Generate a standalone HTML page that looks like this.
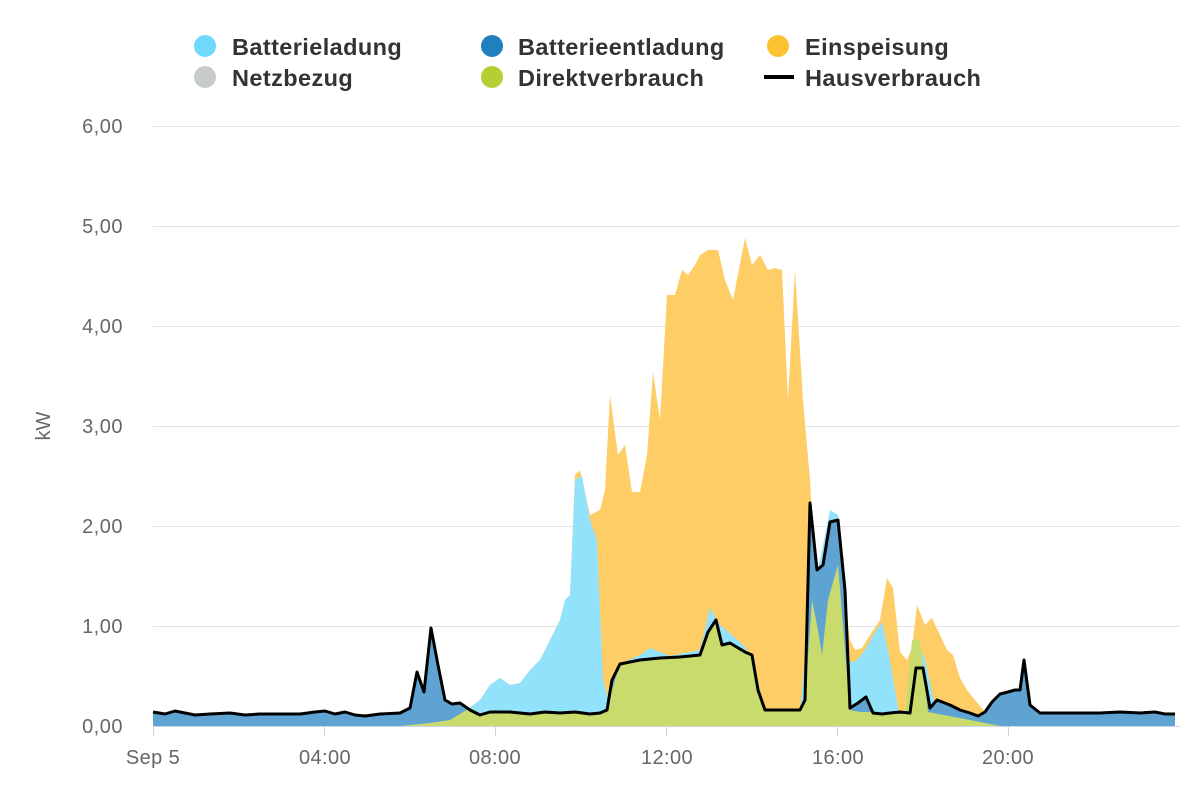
<!DOCTYPE html>
<html><head><meta charset="utf-8"><style>
body{margin:0;background:#fff;font-family:"Liberation Sans",sans-serif;}
</style></head><body>
<svg width="1200" height="800" xmlns="http://www.w3.org/2000/svg" font-family="Liberation Sans, sans-serif">
<g font-size="23.5" font-weight="bold" fill="#333" letter-spacing="0.4">
<circle cx="205" cy="46" r="11" fill="#6fd9fb"/><text x="232" y="55">Batterieladung</text>
<circle cx="205" cy="77" r="11" fill="#c8cbcb"/><text x="232" y="86">Netzbezug</text>
<circle cx="492" cy="46" r="11" fill="#1f80bd"/><text x="518" y="55">Batterieentladung</text>
<circle cx="492" cy="77" r="11" fill="#b5cf33"/><text x="518" y="86">Direktverbrauch</text>
<circle cx="778" cy="46" r="11" fill="#fdc231"/><text x="805" y="55">Einspeisung</text>
<rect x="764" y="75" width="30" height="4" fill="#000"/><text x="805" y="86">Hausverbrauch</text>
</g>
<g stroke="#e2e2e2" stroke-width="1">
<line x1="153" x2="1180" y1="126.5" y2="126.5"/><line x1="153" x2="1180" y1="226.5" y2="226.5"/>
<line x1="153" x2="1180" y1="326.5" y2="326.5"/><line x1="153" x2="1180" y1="426.5" y2="426.5"/>
<line x1="153" x2="1180" y1="526.5" y2="526.5"/><line x1="153" x2="1180" y1="626.5" y2="626.5"/>
</g>
<g font-size="20" fill="#666" text-anchor="end" letter-spacing="0.5">
<text x="123" y="133">6,00</text><text x="123" y="233">5,00</text><text x="123" y="333">4,00</text>
<text x="123" y="433">3,00</text><text x="123" y="533">2,00</text><text x="123" y="633">1,00</text><text x="123" y="733">0,00</text>
</g>
<text x="50" y="426" font-size="20" fill="#666" text-anchor="middle" transform="rotate(-90 50 426)">kW</text>
<polygon fill="#fecd66" points="400,726 430,724 460,715 480,700 490,685 500,678 510,685 520,683 530,670 540,660 550,640 560,620 565,600 570,595 575,475 580,470 590,515 600,510 605,490 610,395 618,455 625,445 632,492 640,492 647,455 653,372 660,420 667,295 675,295 682,270 688,275 695,265 700,255 708,250 718,250 725,280 733,300 745,238 752,265 760,255 768,270 775,268 782,270 788,400 795,270 803,400 810,480 815,560 820,590 825,640 830,520 838,515 845,600 850,640 855,650 862,648 870,635 880,620 887,578 893,588 900,652 907,660 912,648 917,605 925,625 932,618 940,635 947,650 953,655 960,678 967,690 975,700 985,712 995,720 1005,724 1020,726"/>
<polygon fill="#93e2fc" points="400,726 430,724 460,715 480,700 490,685 500,678 510,685 520,683 530,670 540,660 550,640 560,620 565,600 570,595 575,480 582,476 590,520 597,540 603,680 610,705 620,664 640,655 650,648 660,652 670,656 700,650 710,608 720,625 740,642 752,655 758,680 765,710 800,712 810,600 820,560 830,510 838,515 845,660 855,662 865,650 875,632 882,622 890,660 900,720 910,700 917,640 925,660 935,705 960,718 1000,726"/>
<polygon fill="#5ea3d2" points="153,726 153,712 165,714 175,711 185,713 195,715 210,714 230,713 245,715 260,714 300,714 315,712 325,711 335,714 345,712 355,715 365,716 380,714 400,713 410,708 417,672 424,692 431,628 438,665 445,700 452,704 460,703 470,710 480,715 490,712 510,712 530,714 545,712 560,713 575,712 590,714 600,713 607,710 612,680 620,664 640,660 660,658 680,657 700,655 708,632 716,620 722,645 730,643 745,652 752,655 758,690 765,710 780,710 800,710 805,700 810,503 817,570 823,565 830,522 838,520 845,590 850,708 858,703 866,697 873,713 882,714 890,713 900,712 910,713 916,668 923,668 930,708 937,700 950,705 960,710 970,713 978,716 985,712 992,702 1000,694 1008,692 1015,690 1020,690 1024,660 1030,705 1040,713 1100,713 1120,712 1140,713 1155,712 1165,714 1175,714 1175,726"/>
<polygon fill="#c9db6c" points="400,726 430,723 450,720 460,714 470,708 480,713 490,712 520,713 560,714 580,713 600,713 607,712 612,690 620,664 630,662 660,658 680,658 700,655 710,630 716,622 722,645 735,645 750,652 758,680 765,710 800,710 805,700 812,600 818,630 822,655 828,600 838,565 845,650 850,710 860,712 875,712 895,714 905,714 912,640 920,640 928,712 960,718 980,722 1000,726"/>
<polyline fill="none" stroke="#000" stroke-width="3" stroke-linejoin="round" points="153,712 165,714 175,711 185,713 195,715 210,714 230,713 245,715 260,714 300,714 315,712 325,711 335,714 345,712 355,715 365,716 380,714 400,713 410,708 417,672 424,692 431,628 438,665 445,700 452,704 460,703 470,710 480,715 490,712 510,712 530,714 545,712 560,713 575,712 590,714 600,713 607,710 612,680 620,664 640,660 660,658 680,657 700,655 708,632 716,620 722,645 730,643 745,652 752,655 758,690 765,710 780,710 800,710 805,700 810,503 817,570 823,565 830,522 838,520 845,590 850,708 858,703 866,697 873,713 882,714 890,713 900,712 910,713 916,668 923,668 930,708 937,700 950,705 960,710 970,713 978,716 985,712 992,702 1000,694 1008,692 1015,690 1020,690 1024,660 1030,705 1040,713 1100,713 1120,712 1140,713 1155,712 1165,714 1175,714"/>
<line x1="153" x2="1180" y1="726.5" y2="726.5" stroke="#ccd6eb"/>
<g stroke="#ccd6eb"><line x1="153.5" x2="153.5" y1="726" y2="736"/><line x1="324.5" x2="324.5" y1="726" y2="736"/><line x1="495.5" x2="495.5" y1="726" y2="736"/><line x1="666.5" x2="666.5" y1="726" y2="736"/><line x1="837.5" x2="837.5" y1="726" y2="736"/><line x1="1008.5" x2="1008.5" y1="726" y2="736"/></g>
<g font-size="20" fill="#666" text-anchor="middle" letter-spacing="0.4">
<text x="153" y="764">Sep 5</text><text x="325" y="764">04:00</text><text x="495" y="764">08:00</text><text x="667" y="764">12:00</text><text x="838" y="764">16:00</text><text x="1008" y="764">20:00</text>
</g>
</svg>
</body></html>
